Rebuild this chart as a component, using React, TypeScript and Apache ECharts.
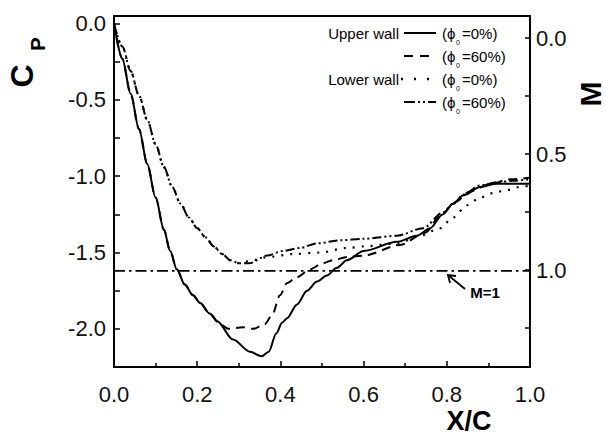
import React, { useEffect, useRef } from "react";
import * as echarts from "echarts";

const FONT = '"Liberation Sans", Arial, Helvetica, sans-serif';

// Upper wall, phi0 = 0% (solid)
const upperWall0: number[][] = [
  [0, 0], [0.02, -0.23], [0.04, -0.46], [0.06, -0.69], [0.08, -0.92], [0.1, -1.14],
  [0.12, -1.35], [0.135, -1.49], [0.151, -1.61], [0.17, -1.71], [0.19, -1.78], [0.207, -1.83],
  [0.23, -1.9], [0.248, -1.95], [0.286, -2.07], [0.327, -2.15], [0.355, -2.18], [0.372, -2.15],
  [0.39, -2.03], [0.404, -1.96], [0.416, -1.93], [0.44, -1.84], [0.464, -1.75], [0.488, -1.69],
  [0.512, -1.65], [0.536, -1.6], [0.56, -1.55], [0.6, -1.49], [0.68, -1.43], [0.728, -1.39],
  [0.76, -1.34], [0.79, -1.25], [0.815, -1.18], [0.84, -1.125], [0.88, -1.07], [0.92, -1.05],
  [1.0, -1.05],
];

// Upper wall, phi0 = 60% (dashed)
const upperWall60: number[][] = [
  [0, 0], [0.02, -0.23], [0.04, -0.46], [0.06, -0.69], [0.08, -0.92], [0.1, -1.14],
  [0.12, -1.35], [0.135, -1.49], [0.151, -1.61], [0.17, -1.71], [0.19, -1.78], [0.207, -1.83],
  [0.23, -1.9], [0.255, -1.97], [0.275, -2.0], [0.31, -1.99], [0.335, -2.0], [0.362, -1.97],
  [0.38, -1.91], [0.399, -1.78], [0.416, -1.7], [0.44, -1.66], [0.471, -1.61], [0.502, -1.57],
  [0.526, -1.55], [0.56, -1.53], [0.6, -1.52], [0.688, -1.45], [0.748, -1.37], [0.784, -1.26],
  [0.82, -1.17], [0.856, -1.1], [0.904, -1.05], [0.952, -1.02], [1.0, -1.01],
];

// Lower wall, phi0 = 0% (dotted)
const lowerWall0: number[][] = [
  [0, 0], [0.02, -0.15], [0.04, -0.31], [0.06, -0.47], [0.08, -0.63], [0.1, -0.79],
  [0.12, -0.94], [0.14, -1.07], [0.16, -1.18], [0.18, -1.27], [0.2, -1.34], [0.22, -1.4],
  [0.24, -1.46], [0.26, -1.51], [0.28, -1.55], [0.3, -1.57], [0.335, -1.55], [0.368, -1.53],
  [0.43, -1.51], [0.495, -1.5], [0.56, -1.47], [0.6, -1.46], [0.68, -1.44], [0.736, -1.39],
  [0.784, -1.34], [0.815, -1.27], [0.849, -1.19], [0.88, -1.14], [0.911, -1.11], [0.945, -1.09],
  [0.976, -1.07], [1.0, -1.06],
];

// Lower wall, phi0 = 60% (dash-dot-dot)
const lowerWall60: number[][] = [
  [0, 0], [0.02, -0.15], [0.04, -0.31], [0.06, -0.47], [0.08, -0.63], [0.1, -0.79],
  [0.12, -0.94], [0.14, -1.07], [0.16, -1.18], [0.18, -1.27], [0.2, -1.34], [0.22, -1.4],
  [0.24, -1.46], [0.26, -1.51], [0.28, -1.55], [0.3, -1.57], [0.325, -1.57], [0.368, -1.52],
  [0.406, -1.49], [0.447, -1.47], [0.488, -1.44], [0.543, -1.42], [0.6, -1.41], [0.68, -1.39],
  [0.743, -1.34], [0.79, -1.24], [0.815, -1.18], [0.84, -1.12], [0.88, -1.06], [0.92, -1.04],
  [0.96, -1.03], [1.0, -1.02],
];

// Sonic line (M = 1)
const sonicCp = -1.62;
const sonicLine: number[][] = [[0, sonicCp], [1, sonicCp]];

// Right (Mach) axis ticks and labels
const machTicks = [0, 0.25, 0.5, 0.75, 1.0, 1.25];
const machLabels = [0, 0.5, 1.0];

const legendNames = ["Upper wall", "", "Lower wall", ""];
const legendPhi = ["=0%)", "=60%)", "=0%)", "=60%)"];

export default function App() {
  const ref = useRef<HTMLDivElement>(null);

  useEffect(() => {
    if (!ref.current) return;
    const chart = echarts.init(ref.current, null, { renderer: "svg" });

    const black = "#000";
    const lineBase = { type: "line", symbol: "none", smooth: 0.3, smoothMonotone: "x", xAxisIndex: 0, yAxisIndex: 0, silent: true };

    const legendDash: (number[] | null)[] = [null, [9, 7], [2, 11], [11, 3, 2, 3, 2, 3]];
    const rowsY = [33, 56, 79, 102];
    const legendGraphics: any[] = [];
    const ts = (text: string, font: string, align: string) => ({
      text, font, fill: black, textAlign: align, textVerticalAlign: "middle", align, verticalAlign: "middle",
    });
    rowsY.forEach((y, i) => {
      if (legendNames[i]) {
        legendGraphics.push({ type: "text", x: 399, y, style: ts(legendNames[i], `15px ${FONT}`, "right") });
      }
      legendGraphics.push({
        type: "line",
        shape: { x1: i === 2 ? 401 : 404, y1: y, x2: 436, y2: y },
        style: { stroke: black, lineWidth: i === 2 ? 2.4 : 2, lineDash: legendDash[i] || undefined },
      });
      legendGraphics.push({ type: "text", x: 442, y, style: ts("(ϕ", `15px ${FONT}`, "left") });
      legendGraphics.push({ type: "text", x: 458, y: y + 9, style: ts("0", `7px ${FONT}`, "center") });
      legendGraphics.push({ type: "text", x: 462, y, style: ts(legendPhi[i], `15px ${FONT}`, "left") });
    });

    const txt = (text: string, x: number, y: number, size: number, bold: boolean, rot = 0) => ({
      type: "text", x, y, rotation: rot,
      style: ts(text, `${bold ? "bold " : ""}${size}px ${FONT}`, "center"),
    });

    const option: any = {
      animation: false,
      backgroundColor: "#fff",
      grid: { left: 114, right: 75, top: 16, bottom: 74, show: true, borderColor: black, borderWidth: 2, backgroundColor: "transparent" },
      xAxis: {
        type: "value", min: 0, max: 1, interval: 0.2,
        axisLine: { show: true, onZero: false, lineStyle: { color: black, width: 2 } },
        axisTick: { show: true, inside: true, length: 6, lineStyle: { color: black, width: 1.5 } },
        minorTick: { show: true, splitNumber: 2, length: 4, lineStyle: { color: black, width: 1.5 } },
        axisLabel: { fontSize: 22, color: "#111", fontFamily: FONT, margin: 16, formatter: (v: number) => v.toFixed(1) },
        splitLine: { show: false },
        minorSplitLine: { show: false },
      },
      yAxis: [
        {
          type: "value", position: "left", min: -2.25, max: 0.05, interval: 0.25,
          axisLine: { show: true, onZero: false, lineStyle: { color: black, width: 2 } },
          axisTick: { show: true, inside: true, length: 6, lineStyle: { color: black, width: 1.5 } },
          axisLabel: {
            fontSize: 22, color: "#111", fontFamily: FONT, margin: 8,
            formatter: (v: number) => {
              const k = v / 0.5;
              return Math.abs(k - Math.round(k)) < 1e-6 ? v.toFixed(1) : "";
            },
          },
          splitLine: { show: false },
        },
        {
          type: "value", position: "right", inverse: true, min: -0.095, max: 1.418,
          axisLine: { show: true, onZero: false, lineStyle: { color: black, width: 2 } },
          axisTick: { show: true, inside: true, length: 5, customValues: machTicks, lineStyle: { color: black, width: 1.5 } },
          axisLabel: { fontSize: 22, color: "#111", fontFamily: FONT, margin: 6, customValues: machLabels, formatter: (v: number) => v.toFixed(1) },
          splitLine: { show: false },
        },
      ],
      series: [
        { ...lineBase, name: "Upper wall 0%", data: upperWall0, lineStyle: { color: black, width: 2, type: "solid" } },
        { ...lineBase, name: "Upper wall 60%", data: upperWall60, lineStyle: { color: black, width: 2, type: [9, 6] } },
        { ...lineBase, name: "Lower wall 60%", data: lowerWall60, lineStyle: { color: black, width: 2, type: [9, 3, 2, 3, 2, 3] } },
        { ...lineBase, name: "Lower wall 0%", data: lowerWall0, lineStyle: { color: black, width: 2.2, type: [2, 7] } },
        { type: "line", symbol: "none", name: "M=1", data: sonicLine, silent: true, lineStyle: { color: black, width: 1.8, type: [11, 4, 2.5, 4] } },
      ],
      graphic: [
        ...legendGraphics,
        txt("C", 22, 76, 32, true, Math.PI / 2),
        txt("P", 38, 44, 20, true, Math.PI / 2),
        txt("M", 590, 94, 30, true, Math.PI / 2),
        txt("X/C", 469, 421, 27, true),
        txt("M=1", 485, 292, 15, true),
        { type: "line", shape: { x1: 465, y1: 289, x2: 448, y2: 275 }, style: { stroke: black, lineWidth: 1.8 } },
        { type: "polyline", shape: { points: [[456, 276], [448, 275], [450, 283]] }, style: { stroke: black, lineWidth: 1.8, fill: "none" } },
      ],
    };

    chart.setOption(option);
    return () => chart.dispose();
  }, []);

  return (
    <div
      ref={ref}
      style={{ position: "fixed", left: 0, top: 0, width: 605, height: 441, background: "#fff" }}
    />
  );
}
